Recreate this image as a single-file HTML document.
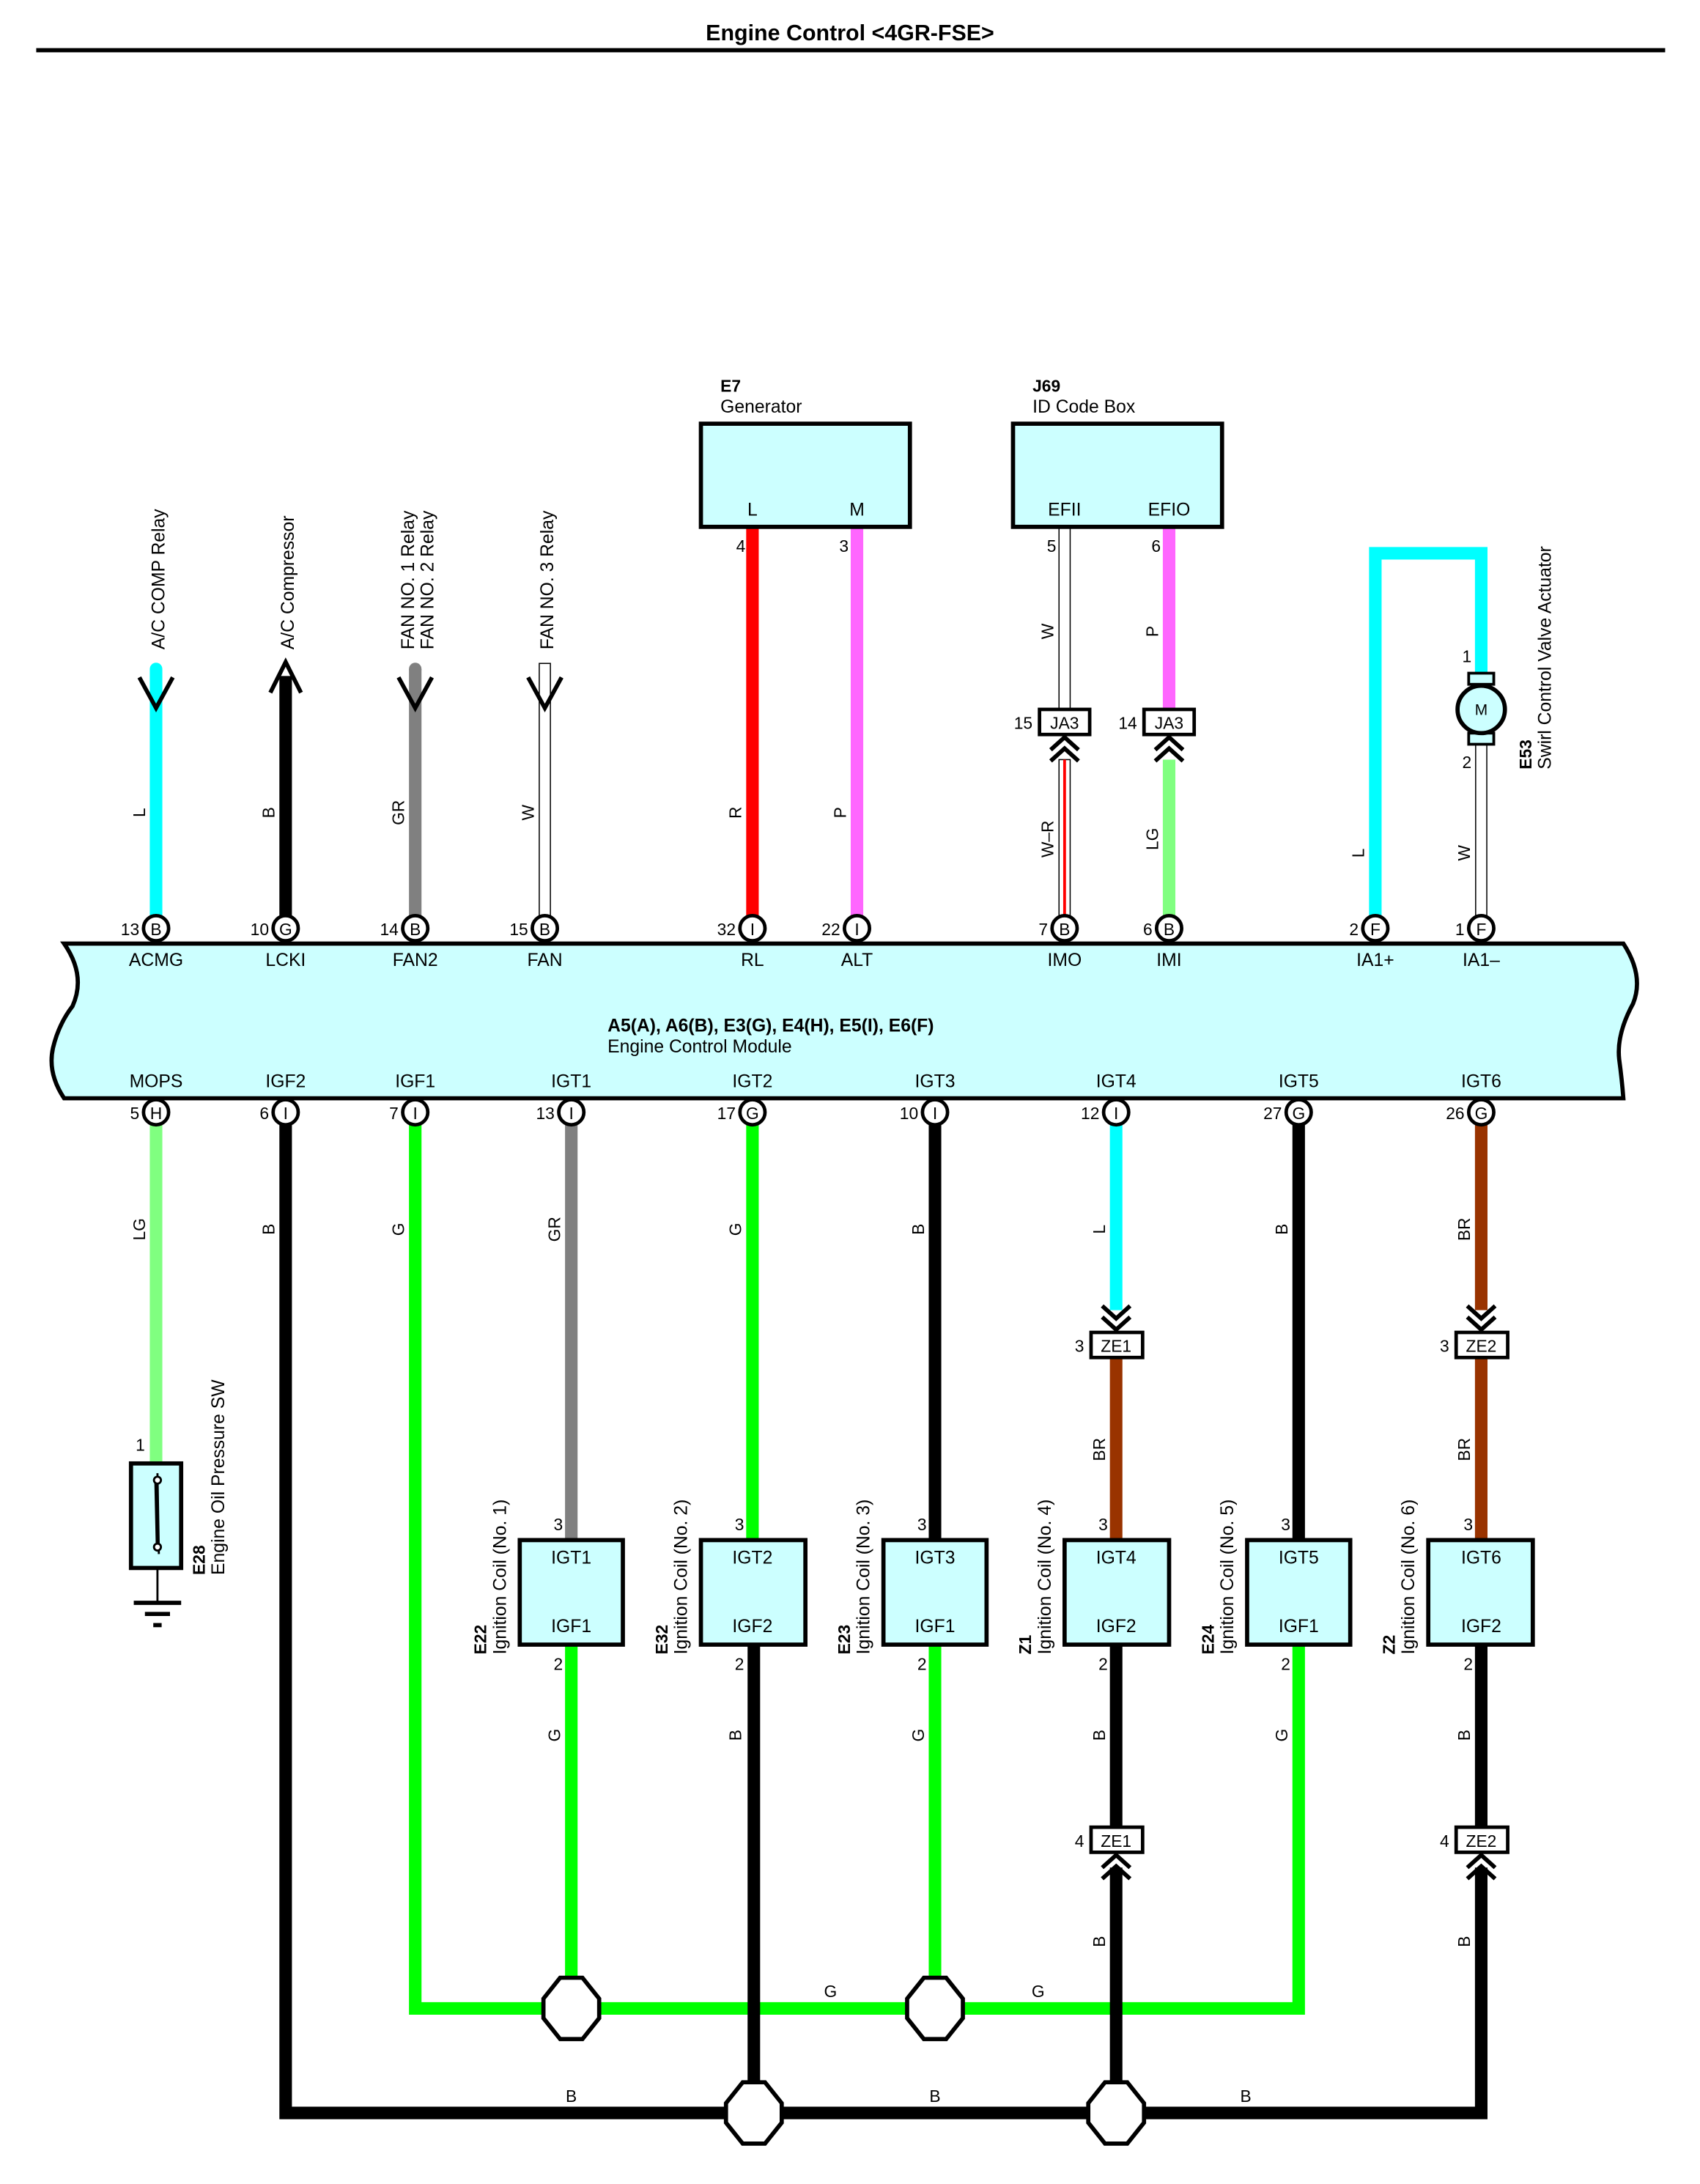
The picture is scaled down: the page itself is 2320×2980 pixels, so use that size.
<!DOCTYPE html>
<html><head><meta charset="utf-8"><style>
html,body{margin:0;padding:0;background:#fff}
svg{display:block}
text{font-family:"Liberation Sans",Arial,sans-serif;fill:#000}
</style></head><body>
<svg width="2320" height="2980" viewBox="0 0 1220 1567" preserveAspectRatio="none" xmlns="http://www.w3.org/2000/svg">
<rect width="1220" height="1567" fill="#fff"/>
<text x="610" y="29" font-size="16" font-weight="bold" text-anchor="middle">Engine Control &lt;4GR-FSE&gt;</text>
<line x1="26" y1="36" x2="1195" y2="36" stroke="#000" stroke-width="3"/>

<!-- ===== TOP WIRES ===== -->
<g stroke-linecap="butt" fill="none">
<line x1="112" y1="480" x2="112" y2="660" stroke="#00ffff" stroke-width="9"/>
<circle cx="112" cy="480" r="4.5" fill="#00ffff" stroke="none"/>
<line x1="205" y1="485" x2="205" y2="660" stroke="#000" stroke-width="9"/>
<line x1="298" y1="480" x2="298" y2="660" stroke="#808080" stroke-width="9"/>
<circle cx="298" cy="480" r="4.5" fill="#808080" stroke="none"/>
<rect x="387" y="476" width="8" height="184" fill="#fff" stroke="#000" stroke-width="0.8"/>
<line x1="540" y1="378" x2="540" y2="660" stroke="#ff0000" stroke-width="9"/>
<line x1="615" y1="378" x2="615" y2="660" stroke="#ff66ff" stroke-width="9"/>
<rect x="760" y="378" width="8" height="131" fill="#fff" stroke="#000" stroke-width="0.8"/>
<rect x="760" y="545" width="8" height="115" fill="#fff" stroke="#000" stroke-width="0.8"/>
<line x1="764" y1="545" x2="764" y2="660" stroke="#ff0000" stroke-width="2"/>
<line x1="839" y1="378" x2="839" y2="509" stroke="#ff66ff" stroke-width="9"/>
<line x1="839" y1="545" x2="839" y2="660" stroke="#80ff80" stroke-width="9"/>
<path d="M987 660 V397 H1063 V490" stroke="#00ffff" stroke-width="9"/>
<rect x="1059" y="532" width="8" height="128" fill="#fff" stroke="#000" stroke-width="0.8"/>
<!-- arrowheads -->
<path d="M100 486 L112 508 L124 486" stroke="#000" stroke-width="3"/>
<path d="M194 497 L205 475 L216 497" stroke="#000" stroke-width="3"/>
<path d="M286 486 L298 508 L310 486" stroke="#000" stroke-width="3"/>
<path d="M379 486 L391 508 L403 486" stroke="#000" stroke-width="3"/>
</g>
<g font-size="13">
<text transform="translate(118,466) rotate(-90)">A/C COMP Relay</text>
<text transform="translate(211,466) rotate(-90)">A/C Compressor</text>
<text transform="translate(297,466) rotate(-90)">FAN NO. 1 Relay</text>
<text transform="translate(311,466) rotate(-90)">FAN NO. 2 Relay</text>
<text transform="translate(397,466) rotate(-90)">FAN NO. 3 Relay</text>
</g>
<g font-size="12" text-anchor="middle">
<text transform="translate(104,583) rotate(-90)">L</text>
<text transform="translate(197,583) rotate(-90)">B</text>
<text transform="translate(290,583) rotate(-90)">GR</text>
<text transform="translate(383,583) rotate(-90)">W</text>
<text transform="translate(532,583) rotate(-90)">R</text>
<text transform="translate(607,583) rotate(-90)">P</text>
<text transform="translate(756,453) rotate(-90)">W</text>
<text transform="translate(831,453) rotate(-90)">P</text>
<text transform="translate(756,602) rotate(-90)">W–R</text>
<text transform="translate(831,602) rotate(-90)">LG</text>
<text transform="translate(979,612) rotate(-90)">L</text>
<text transform="translate(1055,612) rotate(-90)">W</text>
</g>

<!-- Generator & ID box -->
<rect x="503" y="304" width="150" height="74" fill="#ccffff" stroke="#000" stroke-width="3"/>
<rect x="727" y="304" width="150" height="74" fill="#ccffff" stroke="#000" stroke-width="3"/>
<text x="517" y="281" font-size="12" font-weight="bold">E7</text>
<text x="517" y="296" font-size="13">Generator</text>
<text x="741" y="281" font-size="12" font-weight="bold">J69</text>
<text x="741" y="296" font-size="13">ID Code Box</text>
<g font-size="13" text-anchor="middle">
<text x="540" y="370">L</text><text x="615" y="370">M</text>
<text x="764" y="370">EFII</text><text x="839" y="370">EFIO</text>
</g>
<g font-size="12" text-anchor="end">
<text x="535" y="396">4</text><text x="609" y="396">3</text>
<text x="758" y="396">5</text><text x="833" y="396">6</text>
</g>

<!-- JA3 connectors -->
<g fill="#fff" stroke="#000" stroke-width="2.5">
<rect x="746" y="509" width="36" height="18"/>
<rect x="821" y="509" width="36" height="18"/>
</g>
<g font-size="12" text-anchor="middle"><text x="764" y="523">JA3</text><text x="839" y="523">JA3</text></g>
<g font-size="12" text-anchor="end"><text x="741" y="523">15</text><text x="816" y="523">14</text></g>
<g fill="none" stroke="#000" stroke-width="3">
<path d="M754 538 L764 529 L774 538 M754 546 L764 537 L774 546"/>
<path d="M829 538 L839 529 L849 538 M829 546 L839 537 L849 546"/>
</g>

<!-- Swirl motor -->
<rect x="1054" y="483" width="18" height="8" fill="#ccffff" stroke="#000" stroke-width="2"/>
<rect x="1054" y="526" width="18" height="8" fill="#ccffff" stroke="#000" stroke-width="2"/>
<circle cx="1063" cy="509" r="17" fill="#ccffff" stroke="#000" stroke-width="3"/>
<text x="1063" y="513" font-size="11" text-anchor="middle">M</text>
<text x="1056" y="475" font-size="12" text-anchor="end">1</text>
<text x="1056" y="551" font-size="12" text-anchor="end">2</text>
<text transform="translate(1099,552) rotate(-90)" font-size="12" font-weight="bold">E53</text>
<text transform="translate(1113,552) rotate(-90)" font-size="13">Swirl Control Valve Actuator</text>

<!-- ===== ECM ===== -->
<path d="M46 677 H1165 Q1180 700 1172 720 Q1160 742 1162 760 Q1164 775 1165 788 H46 Q34 770 38 752 Q42 735 52 722 Q62 700 46 677 Z" fill="#ccffff" stroke="#000" stroke-width="3"/>
<g font-size="13" text-anchor="middle">
<text x="112" y="693">ACMG</text><text x="205" y="693">LCKI</text><text x="298" y="693">FAN2</text><text x="391" y="693">FAN</text>
<text x="540" y="693">RL</text><text x="615" y="693">ALT</text><text x="764" y="693">IMO</text><text x="839" y="693">IMI</text>
<text x="987" y="693">IA1+</text><text x="1063" y="693">IA1–</text>
<text x="112" y="780">MOPS</text><text x="205" y="780">IGF2</text><text x="298" y="780">IGF1</text><text x="410" y="780">IGT1</text>
<text x="540" y="780">IGT2</text><text x="671" y="780">IGT3</text><text x="801" y="780">IGT4</text><text x="932" y="780">IGT5</text><text x="1063" y="780">IGT6</text>
</g>
<text x="436" y="740" font-size="13" font-weight="bold">A5(A), A6(B), E3(G), E4(H), E5(I), E6(F)</text>
<text x="436" y="755" font-size="13">Engine Control Module</text>

<!-- ===== BOTTOM WIRES ===== -->
<g fill="none" stroke-linecap="butt">
<line x1="112" y1="806" x2="112" y2="1049" stroke="#80ff80" stroke-width="9"/>
<path d="M298 806 V1441 H932 V1180" stroke="#00ff00" stroke-width="9"/>
<line x1="410" y1="1180" x2="410" y2="1441" stroke="#00ff00" stroke-width="9"/>
<line x1="671" y1="1180" x2="671" y2="1441" stroke="#00ff00" stroke-width="9"/>
<line x1="540" y1="806" x2="540" y2="1105" stroke="#00ff00" stroke-width="9"/>
<path d="M205 806 V1516 H1063 V1340" stroke="#000" stroke-width="9"/>
<line x1="541" y1="1180" x2="541" y2="1516" stroke="#000" stroke-width="9"/>
<line x1="801" y1="1180" x2="801" y2="1311" stroke="#000" stroke-width="9"/>
<line x1="801" y1="1340" x2="801" y2="1516" stroke="#000" stroke-width="9"/>
<line x1="1063" y1="1180" x2="1063" y2="1311" stroke="#000" stroke-width="9"/>
<line x1="410" y1="806" x2="410" y2="1105" stroke="#808080" stroke-width="9"/>
<line x1="671" y1="806" x2="671" y2="1105" stroke="#000" stroke-width="9"/>
<line x1="801" y1="806" x2="801" y2="940" stroke="#00ffff" stroke-width="9"/>
<line x1="801" y1="975" x2="801" y2="1105" stroke="#993300" stroke-width="9"/>
<line x1="932" y1="806" x2="932" y2="1105" stroke="#000" stroke-width="9"/>
<line x1="1063" y1="806" x2="1063" y2="940" stroke="#993300" stroke-width="9"/>
<line x1="1063" y1="975" x2="1063" y2="1105" stroke="#993300" stroke-width="9"/>
</g>
<!-- chevrons at ZE -->
<g fill="none" stroke="#000" stroke-width="3">
<path d="M791 937 L801 946 L811 937 M791 945 L801 954 L811 945"/>
<path d="M1053 937 L1063 946 L1073 937 M1053 945 L1063 954 L1073 945"/>
<path d="M791 1340 L801 1331 L811 1340 M791 1348 L801 1339 L811 1348"/>
<path d="M1053 1340 L1063 1331 L1073 1340 M1053 1348 L1063 1339 L1073 1348"/>
</g>
<g fill="#fff" stroke="#000" stroke-width="2.5">
<rect x="783" y="956" width="37" height="18"/>
<rect x="1045" y="956" width="37" height="18"/>
<rect x="783" y="1311" width="37" height="18"/>
<rect x="1045" y="1311" width="37" height="18"/>
</g>
<g font-size="12" text-anchor="middle">
<text x="801" y="970">ZE1</text><text x="1063" y="970">ZE2</text>
<text x="801" y="1325">ZE1</text><text x="1063" y="1325">ZE2</text>
</g>
<g font-size="12" text-anchor="end">
<text x="778" y="970">3</text><text x="1040" y="970">3</text>
<text x="778" y="1325">4</text><text x="1040" y="1325">4</text>
</g>

<!-- octagon splices -->
<g fill="#fff" stroke="#000" stroke-width="3">
<polygon points="402,1419 418,1419 430,1434 430,1448 418,1463 402,1463 390,1448 390,1434"/>
<polygon points="663,1419 679,1419 691,1434 691,1448 679,1463 663,1463 651,1448 651,1434"/>
<polygon points="533,1494 549,1494 561,1509 561,1523 549,1538 533,1538 521,1523 521,1509"/>
<polygon points="793,1494 809,1494 821,1509 821,1523 809,1538 793,1538 781,1523 781,1509"/>
</g>
<g font-size="12" text-anchor="middle">
<text x="596" y="1433">G</text><text x="745" y="1433">G</text>
<text x="410" y="1508">B</text><text x="671" y="1508">B</text><text x="894" y="1508">B</text>
</g>
<g font-size="12" text-anchor="middle">
<text transform="translate(104,882) rotate(-90)">LG</text>
<text transform="translate(197,882) rotate(-90)">B</text>
<text transform="translate(290,882) rotate(-90)">G</text>
<text transform="translate(402,882) rotate(-90)">GR</text>
<text transform="translate(532,882) rotate(-90)">G</text>
<text transform="translate(663,882) rotate(-90)">B</text>
<text transform="translate(793,882) rotate(-90)">L</text>
<text transform="translate(924,882) rotate(-90)">B</text>
<text transform="translate(1055,882) rotate(-90)">BR</text>
<text transform="translate(793,1040) rotate(-90)">BR</text>
<text transform="translate(1055,1040) rotate(-90)">BR</text>
<text transform="translate(402,1245) rotate(-90)">G</text>
<text transform="translate(532,1245) rotate(-90)">B</text>
<text transform="translate(663,1245) rotate(-90)">G</text>
<text transform="translate(793,1245) rotate(-90)">B</text>
<text transform="translate(924,1245) rotate(-90)">G</text>
<text transform="translate(1055,1245) rotate(-90)">B</text>
<text transform="translate(793,1393) rotate(-90)">B</text>
<text transform="translate(1055,1393) rotate(-90)">B</text>
</g>

<!-- Oil pressure switch -->
<rect x="94" y="1050" width="36" height="75" fill="#ccffff" stroke="#000" stroke-width="3"/>
<line x1="113" y1="1057" x2="114" y2="1115" stroke="#000" stroke-width="1.5"/>
<line x1="112" y1="1063" x2="113" y2="1108" stroke="#000" stroke-width="2.5"/>
<circle cx="113" cy="1062" r="2.5" fill="#fff" stroke="#000" stroke-width="1.5"/>
<circle cx="113" cy="1110" r="2.5" fill="#fff" stroke="#000" stroke-width="1.5"/>
<line x1="113" y1="1125" x2="113" y2="1150" stroke="#000" stroke-width="1.5"/>
<line x1="96" y1="1150" x2="130" y2="1150" stroke="#000" stroke-width="3"/>
<line x1="104" y1="1158" x2="122" y2="1158" stroke="#000" stroke-width="3"/>
<line x1="110" y1="1166" x2="116" y2="1166" stroke="#000" stroke-width="3"/>
<text x="104" y="1041" font-size="12" text-anchor="end">1</text>
<text transform="translate(147,1130) rotate(-90)" font-size="12" font-weight="bold">E28</text>
<text transform="translate(161,1130) rotate(-90)" font-size="13">Engine Oil Pressure SW</text>

<!-- Ignition coils -->
<g fill="#ccffff" stroke="#000" stroke-width="3">
<rect x="373" y="1105" width="74" height="75"/>
<rect x="503" y="1105" width="75" height="75"/>
<rect x="634" y="1105" width="74" height="75"/>
<rect x="764" y="1105" width="75" height="75"/>
<rect x="895" y="1105" width="74" height="75"/>
<rect x="1025" y="1105" width="75" height="75"/>
</g>
<g font-size="13" text-anchor="middle">
<text x="410" y="1122">IGT1</text><text x="410" y="1171">IGF1</text>
<text x="540" y="1122">IGT2</text><text x="540" y="1171">IGF2</text>
<text x="671" y="1122">IGT3</text><text x="671" y="1171">IGF1</text>
<text x="801" y="1122">IGT4</text><text x="801" y="1171">IGF2</text>
<text x="932" y="1122">IGT5</text><text x="932" y="1171">IGF1</text>
<text x="1063" y="1122">IGT6</text><text x="1063" y="1171">IGF2</text>
</g>
<g font-size="12" text-anchor="end">
<text x="404" y="1098">3</text><text x="534" y="1098">3</text><text x="665" y="1098">3</text><text x="795" y="1098">3</text><text x="926" y="1098">3</text><text x="1057" y="1098">3</text>
<text x="404" y="1198">2</text><text x="534" y="1198">2</text><text x="665" y="1198">2</text><text x="795" y="1198">2</text><text x="926" y="1198">2</text><text x="1057" y="1198">2</text>
</g>
<g font-size="12" font-weight="bold">
<text transform="translate(349,1187) rotate(-90)">E22</text>
<text transform="translate(479,1187) rotate(-90)">E32</text>
<text transform="translate(610,1187) rotate(-90)">E23</text>
<text transform="translate(740,1187) rotate(-90)">Z1</text>
<text transform="translate(871,1187) rotate(-90)">E24</text>
<text transform="translate(1001,1187) rotate(-90)">Z2</text>
</g>
<g font-size="13">
<text transform="translate(363,1187) rotate(-90)">Ignition Coil (No. 1)</text>
<text transform="translate(493,1187) rotate(-90)">Ignition Coil (No. 2)</text>
<text transform="translate(624,1187) rotate(-90)">Ignition Coil (No. 3)</text>
<text transform="translate(754,1187) rotate(-90)">Ignition Coil (No. 4)</text>
<text transform="translate(885,1187) rotate(-90)">Ignition Coil (No. 5)</text>
<text transform="translate(1015,1187) rotate(-90)">Ignition Coil (No. 6)</text>
</g>

<!-- ===== PINS ===== -->
<g fill="#fff" stroke="#000" stroke-width="2.5">
<circle cx="112" cy="666" r="9"/><circle cx="205" cy="666" r="9"/><circle cx="298" cy="666" r="9"/><circle cx="391" cy="666" r="9"/>
<circle cx="540" cy="666" r="9"/><circle cx="615" cy="666" r="9"/><circle cx="764" cy="666" r="9"/><circle cx="839" cy="666" r="9"/>
<circle cx="987" cy="666" r="9"/><circle cx="1063" cy="666" r="9"/>
<circle cx="112" cy="798" r="9"/><circle cx="205" cy="798" r="9"/><circle cx="298" cy="798" r="9"/><circle cx="410" cy="798" r="9"/>
<circle cx="540" cy="798" r="9"/><circle cx="671" cy="798" r="9"/><circle cx="801" cy="798" r="9"/><circle cx="932" cy="798" r="9"/><circle cx="1063" cy="798" r="9"/>
</g>
<g font-size="12" text-anchor="middle">
<text x="112" y="671">B</text><text x="205" y="671">G</text><text x="298" y="671">B</text><text x="391" y="671">B</text>
<text x="540" y="671">I</text><text x="615" y="671">I</text><text x="764" y="671">B</text><text x="839" y="671">B</text>
<text x="987" y="671">F</text><text x="1063" y="671">F</text>
<text x="112" y="803">H</text><text x="205" y="803">I</text><text x="298" y="803">I</text><text x="410" y="803">I</text>
<text x="540" y="803">G</text><text x="671" y="803">I</text><text x="801" y="803">I</text><text x="932" y="803">G</text><text x="1063" y="803">G</text>
</g>
<g font-size="12" text-anchor="end">
<text x="100" y="671">13</text><text x="193" y="671">10</text><text x="286" y="671">14</text><text x="379" y="671">15</text>
<text x="528" y="671">32</text><text x="603" y="671">22</text><text x="752" y="671">7</text><text x="827" y="671">6</text>
<text x="975" y="671">2</text><text x="1051" y="671">1</text>
<text x="100" y="803">5</text><text x="193" y="803">6</text><text x="286" y="803">7</text><text x="398" y="803">13</text>
<text x="528" y="803">17</text><text x="659" y="803">10</text><text x="789" y="803">12</text><text x="920" y="803">27</text><text x="1051" y="803">26</text>
</g>
</svg>
</body></html>
